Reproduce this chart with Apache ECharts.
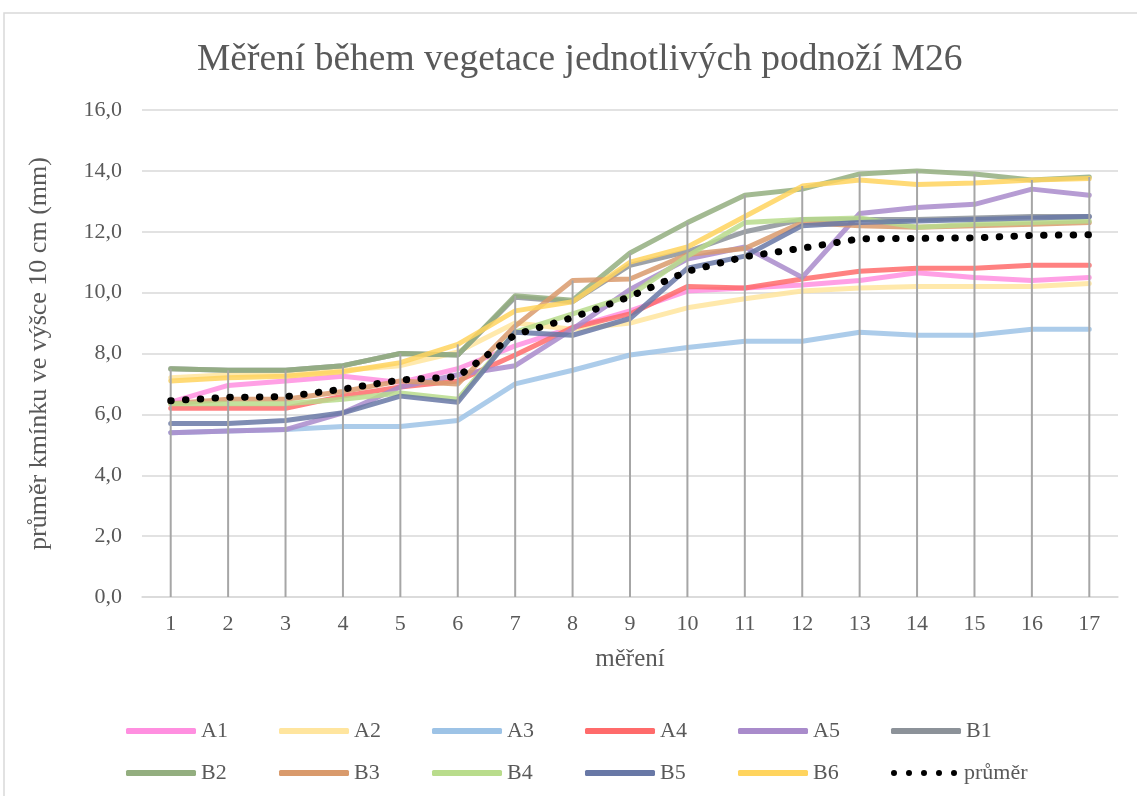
<!DOCTYPE html>
<html>
<head>
<meta charset="utf-8">
<script src="https://cdn.jsdelivr.net/npm/echarts@6/dist/echarts.min.js"></script>
<style>
  html, body { margin: 0; padding: 0; background: #fff; }
  #chart { width: 1137px; height: 796px; }
</style>
</head>
<body>
<div id="chart"></div>
<script>
// categories (měření 1..17)
var mereni = ['1','2','3','4','5','6','7','8','9','10','11','12','13','14','15','16','17'];

// values (mm)
var A1 = [6.4, 6.95, 7.1, 7.25, 7.05, 7.5, 8.25, 8.85, 9.4, 10.05, 10.15, 10.25, 10.4, 10.65, 10.5, 10.4, 10.5];
var A2 = [7.2, 7.3, 7.3, 7.45, 7.6, 8.05, 9.0, 8.8, 9.0, 9.5, 9.8, 10.05, 10.15, 10.2, 10.2, 10.2, 10.3];
var A3 = [5.4, 5.45, 5.5, 5.6, 5.6, 5.8, 7.0, 7.45, 7.95, 8.2, 8.4, 8.4, 8.7, 8.6, 8.6, 8.8, 8.8];
var A4 = [6.2, 6.2, 6.2, 6.6, 6.9, 7.1, 7.95, 8.85, 9.3, 10.2, 10.15, 10.45, 10.7, 10.8, 10.8, 10.9, 10.9];
var A5 = [5.4, 5.45, 5.5, 6.05, 6.9, 7.3, 7.6, 8.8, 10.1, 11.1, 11.5, 10.5, 12.6, 12.8, 12.9, 13.4, 13.2];
var B1 = [7.5, 7.45, 7.45, 7.6, 8.0, 7.95, 9.85, 9.7, 10.9, 11.35, 12.0, 12.4, 12.4, 12.4, 12.45, 12.5, 12.5];
var B2 = [7.5, 7.45, 7.45, 7.6, 8.0, 7.95, 9.9, 9.75, 11.3, 12.3, 13.2, 13.4, 13.9, 14.0, 13.9, 13.7, 13.8];
var B3 = [6.35, 6.5, 6.5, 6.75, 7.1, 7.0, 8.9, 10.4, 10.45, 11.25, 11.45, 12.3, 12.2, 12.15, 12.2, 12.25, 12.3];
var B4 = [6.35, 6.35, 6.35, 6.5, 6.7, 6.5, 8.7, 9.3, 9.9, 11.2, 12.3, 12.4, 12.45, 12.15, 12.25, 12.3, 12.35];
var B5 = [5.7, 5.7, 5.8, 6.05, 6.6, 6.4, 8.7, 8.6, 9.15, 10.8, 11.2, 12.2, 12.3, 12.35, 12.4, 12.45, 12.5];
var B6 = [7.1, 7.2, 7.25, 7.4, 7.7, 8.3, 9.4, 9.7, 11.0, 11.5, 12.5, 13.5, 13.7, 13.55, 13.6, 13.7, 13.75];
var prumer = [6.45, 6.56, 6.58, 6.83, 7.13, 7.24, 8.62, 9.18, 9.87, 10.7, 11.18, 11.46, 11.77, 11.78, 11.8, 11.88, 11.9];

var names = ['A1','A2','A3','A4','A5','B1','B2','B3','B4','B5','B6'];
var datas = [A1, A2, A3, A4, A5, B1, B2, B3, B4, B5, B6];
var colors = ['#FF8FE0','#FFE59E','#9DC3E6','#FF6B6B','#A98BCB','#8C9299','#93AE7F','#D99A6C','#B9DC8C','#6878A6','#FFD45E'];

// drop lines go from the highest point down to the axis
var dropTop = mereni.map(function(d, i){
    var m = prumer[i];
    datas.forEach(function(s){ if (s[i] > m) m = s[i]; });
    return m;
});

var fontF = '"Liberation Serif", "Times New Roman", serif';
var txtCol = '#595959';

// five dots for the legend of the mean
var dotsIcon = 'path://';
for (var k = 0; k < 5; k++){
    var cx = k * 15;
    dotsIcon += 'M' + cx + ',3a3,3 0 1,0 6,0a3,3 0 1,0 -6,0z';
}

var series = [];
series.push({
    name: 'drop',
    type: 'bar',
    data: dropTop,
    barWidth: 2,
    silent: true,
    z: 3,
    itemStyle: { color: '#A6A6A6' }
});

for (var i = 0; i < names.length; i++){
    series.push({
        name: names[i],
        type: 'line',
        data: datas[i],
        symbol: 'none',
        showSymbol: false,
        z: 2,
        color: colors[i],
        lineStyle: { width: 5, color: colors[i], opacity: 0.85, cap: 'round', join: 'round' }
    });
}

series.push({
    name: 'průměr',
    type: 'line',
    data: prumer,
    symbol: 'none',
    showSymbol: false,
    z: 4,
    color: '#000',
    lineStyle: { width: 7, color: '#000', type: [0.5, 14.3], cap: 'round' }
});

var legendData = names.map(function(n){ return { name: n, icon: 'roundRect' }; });
legendData.push({ name: 'průměr', icon: dotsIcon });

var chart = echarts.init(document.getElementById('chart'));

var option = {
    animation: false,
    backgroundColor: '#fff',
    title: {
        text: 'Měření během vegetace jednotlivých podnoží M26',
        left: 192,
        top: 36,
        textStyle: { fontFamily: fontF, fontSize: 37.5, fontWeight: 'normal', color: txtCol }
    },
    graphic: [{
        type: 'rect',
        shape: { x: 4, y: 13, width: 1150, height: 800 },
        style: { fill: 'none', stroke: '#D9D9D9', lineWidth: 1.5 },
        silent: true
    }],
    grid: { left: 142, right: 19, top: 110, bottom: 199 },
    legend: {
        data: legendData,
        left: 121,
        top: 714,
        width: 940,
        itemWidth: 70,
        itemHeight: 6,
        itemGap: 18,
        textStyle: { fontFamily: fontF, fontSize: 22, color: txtCol, width: 60, lineHeight: 24 }
    },
    xAxis: {
        type: 'category',
        data: mereni,
        boundaryGap: true,
        name: 'měření',
        nameLocation: 'middle',
        nameGap: 50,
        nameTextStyle: { fontFamily: fontF, fontSize: 25, color: txtCol },
        axisLine: { lineStyle: { color: '#D9D9D9', width: 1.5 } },
        axisTick: { show: false },
        axisLabel: { fontFamily: fontF, fontSize: 22, color: txtCol, margin: 16 }
    },
    yAxis: {
        type: 'value',
        min: 0,
        max: 16,
        interval: 2,
        name: 'průměr kmínku ve výšce 10 cm (mm)',
        nameLocation: 'middle',
        nameGap: 90,
        nameTextStyle: { fontFamily: fontF, fontSize: 26, color: txtCol },
        axisLine: { show: false },
        axisTick: { show: false },
        splitLine: { lineStyle: { color: '#D9D9D9', width: 1.5 } },
        axisLabel: {
            fontFamily: fontF, fontSize: 22, color: txtCol, margin: 20,
            formatter: function(v){ return v.toFixed(1).replace('.', ','); }
        }
    },
    series: series
};

chart.setOption(option);
</script>
</body>
</html>
